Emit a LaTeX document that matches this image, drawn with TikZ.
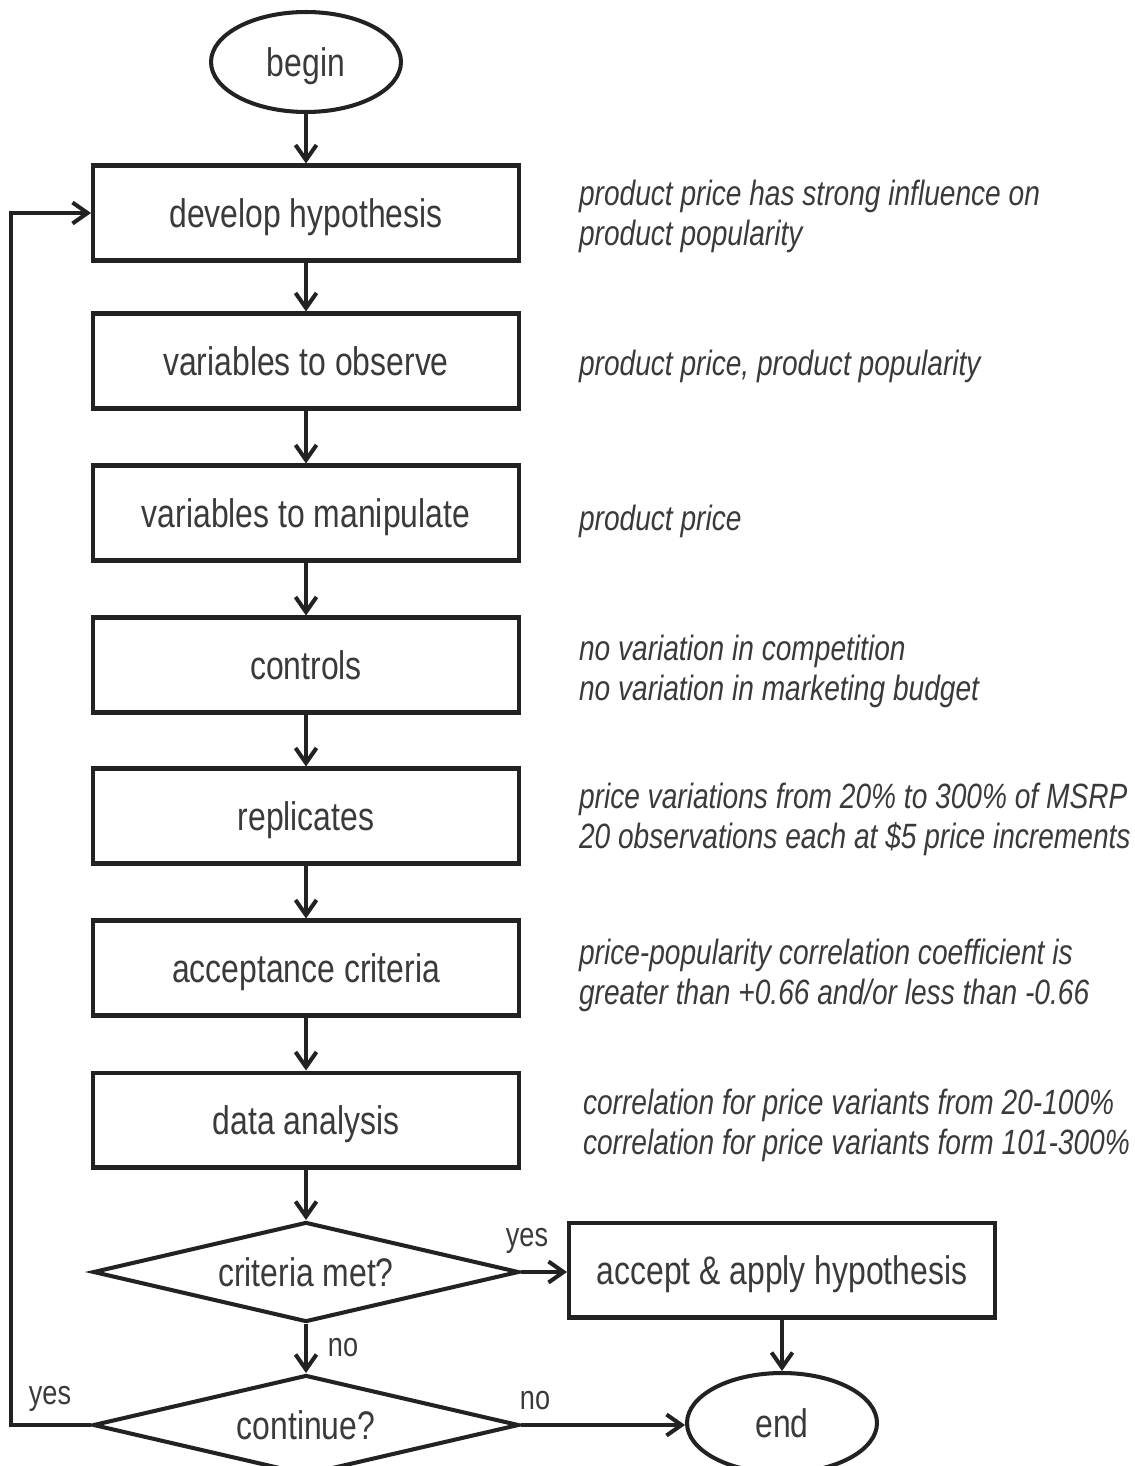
\documentclass[tikz,border=0pt]{standalone}
\usepackage{fontspec}
\setmainfont{Liberation Sans}[FakeStretch=0.8]
\usepackage{tikz}
\usetikzlibrary{positioning, arrows.meta, shapes.geometric}
\definecolor{ink}{HTML}{222222}
\definecolor{txt}{HTML}{3A3A3A}

\begin{document}
\begin{tikzpicture}[x=0.02cm, y=-0.02cm, color=ink, line width=2.3pt,
    box/.style={draw, rectangle, minimum width=8.52cm, minimum height=1.9cm, text height=16.3pt, text depth=0pt, text=txt, font=\fontsize{22.7}{27}\selectfont},
    oval/.style={draw, ellipse, inner sep=0pt, minimum width=3.8cm, minimum height=2cm, text height=16.3pt, text depth=0pt, text=txt, font=\fontsize{22.7}{27}\selectfont},
    decide/.style={draw, diamond, aspect=4.26, inner sep=0pt, minimum width=8.52cm, minimum height=2cm, text height=16.3pt, text depth=0pt, text=txt, font=\fontsize{22.7}{27}\selectfont},
    note/.style={anchor=west, align=left, inner sep=0pt, text=txt, font=\fontsize{20}{22.7}\selectfont\itshape},
    lbl/.style={inner sep=0pt, text=txt, font=\fontsize{19.3}{22.7}\selectfont},
    arr/.style={-{Straight Barb[length=0.3cm, width=0.42cm, line width=2.3pt]}}]
    \useasboundingbox (0,0) rectangle (1134,1466);
    % main column
    \node[oval] (begin) at (306,62) {begin};
    \foreach \n/\y/\t in {dev/213/develop hypothesis, obs/361/variables to observe,
        man/513/variables to manipulate, ctl/665/controls, rep/816/replicates,
        acc/968/acceptance criteria, ana/1120/data analysis}
        \node[box] (\n) at (306,\y) {\t};
    \node[decide] (crit) at (306,1272) {criteria met?};
    \node[decide] (cont) at (306,1425) {continue?};
    \node[box] (apply) at (782,1270) {accept \& apply hypothesis};
    \node[oval] (end) at (782,1423) {end};
    % notes on the right
    \node[note] (nDev) at (577,216) {product price has strong influence on\\product popularity};
    \node[note] (nObs) at (577,366) {product price, product popularity};
    \node[note] (nMan) at (577,521) {product price};
    \node[note] (nCtl) at (577,671) {no variation in competition\\no variation in marketing budget};
    \node[note] (nRep) at (577,819) {price variations from 20\% to 300\% of MSRP\\20 observations each at \$5 price increments};
    \node[note] (nAcc) at (577,975) {price-popularity correlation coefficient is\\greater than +0.66 and/or less than -0.66};
    \node[note] (nAna) at (581,1125) {correlation for price variants from 20-100\%\\correlation for price variants form 101-300\%};
    % connectors
    \foreach \a/\b in {begin/dev, dev/obs, obs/man, man/ctl, ctl/rep, rep/acc, acc/ana, ana/crit, crit/cont, apply/end}
        \draw[arr] (\a) -- (\b);
    \draw[arr] (crit.east) -- (crit.east -| apply.west);
    \draw[arr] (cont.east) -- (cont.east -| end.west);
    \draw[arr] (cont.west) -- ++(-80,0) |- (dev.west);
    \node[lbl] (yCrit) at (527,1241) {yes};
    \node[lbl] (nCrit) at (343,1348) {no};
    \node[lbl] (nCont) at (535,1401) {no};
    \node[lbl] (yCont) at (50,1399) {yes};
\end{tikzpicture}
\end{document}
